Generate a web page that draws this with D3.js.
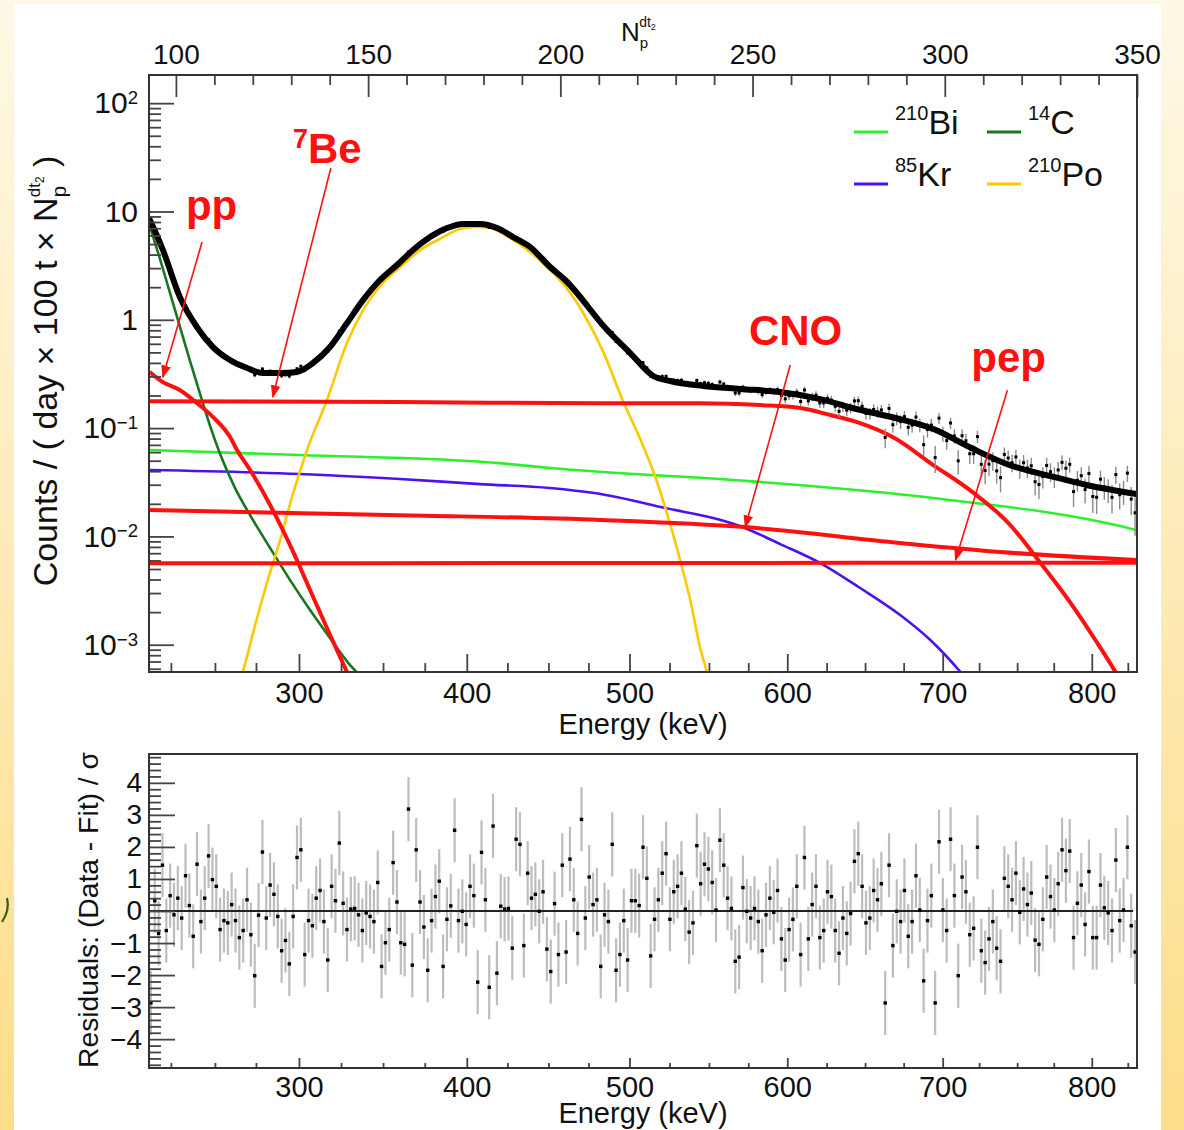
<!DOCTYPE html>
<html><head><meta charset="utf-8">
<script src="https://cdn.jsdelivr.net/npm/d3@7"></script>
<style>
body{margin:0;background:#fff;}
svg{display:block;}
text{font-family:"Liberation Sans",Arial,Helvetica,sans-serif;fill:#111;}
</style>
</head><body>
<svg id="c" width="1184" height="1130"></svg>
<script>
// ---------------- DATA ----------------
const npDomain = [93, 350];
const yDomain = [5.6e-4, 182];
const residDomain = [-4.9, 4.9];

const npTicksMajor = [100, 150, 200, 250, 300, 350];
const energyTicksMajor = [300, 400, 500, 600, 700, 800];
const energyTicksMinor = [225, 250, 275, 325, 350, 375, 425, 450, 475, 525, 550, 575, 625, 650, 675, 725, 750, 775, 825];
const logTicksMajor = [1e-3, 1e-2, 1e-1, 1, 10, 100];
const residTicksMajor = [-4, -3, -2, -1, 0, 1, 2, 3, 4];

// energy (keV) <-> N_p^{dt2} calibration
const calibEnergy = [212.6, 225, 250, 275, 300, 325, 350, 375, 400, 425, 450, 475, 500, 525, 550, 575, 600, 625, 650, 675, 700, 725, 750, 775, 800, 825, 831.4];
const calibNp = [93, 98.7, 110.15, 120.82, 132.01, 142.95, 153.88, 164.73, 175.66, 186.23, 196.9, 207.31, 217.98, 228.4, 238.65, 248.88, 259.03, 269.26, 279.26, 289.3, 299.45, 308.93, 318.82, 328.34, 338.24, 347.61, 350.5];

// spectral components: [N_p, counts]
const totalFit = [[92.97,8.71],[93.23,8.34],[96.62,4.41],[101.04,1.62],[105.47,0.857],[109.63,0.560],[114.06,0.425],[118.48,0.359],[122.64,0.322],[127.07,0.322],[131.49,0.330],[135.66,0.399],[140.08,0.560],[144.51,0.933],[148.67,1.52],[153.10,2.33],[157.52,3.20],[161.69,4.41],[166.11,5.81],[170.54,7.03],[174.70,7.66],[179.13,7.66],[183.55,7.03],[187.72,5.81],[192.14,4.70],[197.35,3.07],[201.25,2.33],[212.18,0.804],[218.17,0.493],[224.15,0.303],[228.58,0.272],[237.17,0.245],[246.80,0.230],[257.21,0.215],[267.62,0.185],[276.99,0.150],[287.14,0.124],[297.03,0.098],[306.92,0.0654],[316.81,0.0456],[327.49,0.0361],[336.86,0.0298],[349.87,0.0246]];
const ppCurve = [[93.2,0.330],[96.6,0.266],[101.0,0.225],[105.5,0.170],[109.6,0.127],[114.1,0.0826],[115.9,0.0627],[119.3,0.0410],[124.5,0.0195],[129.7,0.00831],[134.9,0.00320],[140.1,0.00123],[144.5,0.00056],[146.6,0.000381]];
const be7Curve = [[93.0,0.177],[158.3,0.174],[210.4,0.170],[236.4,0.170],[252.0,0.163],[262.4,0.153],[270.2,0.132],[277.0,0.114],[286.9,0.0810],[297.0,0.0456],[306.9,0.0262],[316.8,0.0130],[324.9,0.00568],[332.7,0.00243],[339.2,0.00110],[344.4,0.00056],[347.0,0.000381]];
const cnoCurve = [[93.0,0.0175],[158.3,0.0157],[210.4,0.0142],[248.1,0.0122],[288.4,0.00869],[314.5,0.00718],[350.0,0.00605]];
const pepCurve = [[93.0,0.00565],[200.0,0.00568],[350.0,0.00572]];
const bi210Curve = [[93.0,0.0627],[132.3,0.0564],[184.3,0.0475],[197.3,0.0428],[249.1,0.0324],[297.0,0.0226],[346.7,0.0122],[350.0,0.0114]];
const kr85Curve = [[93.0,0.0410],[132.3,0.0377],[158.3,0.0339],[179.1,0.0304],[197.3,0.0280],[209.3,0.0250],[227.3,0.0183],[245.2,0.0130],[248.1,0.0119],[257.2,0.00850],[267.6,0.00568],[278.0,0.00334],[288.4,0.00188],[296.3,0.00110],[304.1,0.00056],[308.0,0.000381]];
const c14Curve = [[93.2,7.34],[95.8,3.71],[98.4,1.80],[101.0,0.875],[103.6,0.425],[106.2,0.211],[108.8,0.107],[111.5,0.0576],[115.4,0.0279],[119.3,0.0157],[124.5,0.00781],[129.7,0.00395],[134.9,0.00209],[140.1,0.00115],[145.3,0.000649],[146.9,0.00056],[149.2,0.000381]];
const po210Curve = [[115.4,0.000343],[117.4,0.00056],[120.6,0.00152],[123.9,0.00395],[127.1,0.00925],[130.5,0.0251],[134.1,0.0627],[139.3,0.182],[144.5,0.610],[148.7,1.23],[153.9,2.20],[158.3,3.05],[163.5,4.40],[168.7,5.60],[173.9,6.90],[177.8,7.19],[181.7,7.03],[186.9,5.70],[192.1,4.23],[197.3,2.88],[201.2,2.05],[206.0,1.15],[211.2,0.503],[216.4,0.174],[220.9,0.0776],[224.8,0.0346],[228.7,0.0125],[231.3,0.00580],[233.9,0.00248],[236.5,0.000893],[238.1,0.00056],[239.1,0.000381]];

// relative statistical error of the data vs N_p
const relErrNp = [93, 110, 125, 140, 160, 180, 200, 215, 230, 250, 270, 290, 310, 330, 350];
const relErrVal = [0.01, 0.03, 0.05, 0.03, 0.015, 0.01, 0.015, 0.03, 0.045, 0.06, 0.10, 0.14, 0.18, 0.22, 0.26];

// residuals (Data - Fit)/sigma, one per N_p bin (93.5 ... 349.5)
const residuals = [-2.87,0.32,-0.70,1.43,-0.61,0.48,-0.12,0.40,-0.22,1.10,
0.17,-0.79,1.46,-0.33,0.40,1.72,0.98,0.77,-0.58,-0.30,
-0.37,0.20,-0.30,-0.83,-0.61,0.35,-0.74,-2.02,-0.13,1.84,
-0.22,0.81,0.52,-0.17,-1.24,-0.92,-1.65,-0.17,1.67,1.91,
-1.36,-0.30,-0.46,0.40,0.64,-0.33,-1.53,0.77,0.32,2.12,
0.24,-0.58,0.06,0.08,-0.12,-0.61,-0.06,-0.17,-0.33,0.89,
-1.73,-0.99,-0.58,1.51,0.28,
-0.99,-1.04,3.18,-1.69,1.91,0.28,-0.50,-1.85,-0.30,0.45,
0.93,-1.73,-0.26,0.16,2.52,-0.30,-0.01,-0.42,0.77,0.48,
-2.22,1.83,0.35,-2.38,2.65,-1.94,0.15,0.06,0.08,-1.16,
2.24,2.08,-1.08,1.18,0.40,0.52,-0.01,0.60,-1.19,-1.89,
0.23,-1.36,1.43,-1.28,1.62,0.35,-0.70,2.86,-0.22,1.06,
0.20,0.35,-1.73,-0.12,-0.33,2.08,-1.85,-1.36,-0.30,-1.53,
0.32,0.32,0.17,1.99,
1.02,-1.40,-0.26,0.35,1.18,1.79,-0.26,0.60,0.77,1.18,
0.06,-0.66,-0.37,2.04,0.85,1.46,1.31,0.89,0.03,2.21,
1.43,0.40,0.08,-1.57,-1.44,0.73,-0.01,-0.22,0.08,-0.33,
-1.24,-0.12,0.40,-0.04,0.64,-0.87,-1.53,-0.58,-0.26,0.77,
-1.36,1.67,-0.87,0.20,0.77,-0.83,-0.61,0.60,0.45,-0.61,
-1.32,-0.22,-0.70,-0.08,1.55,1.79,0.77,-0.37,-0.22,0.64,
0.35,0.85,-2.87,1.43,-1.08,
-0.01,-0.33,0.64,-0.79,-0.33,1.10,0.03,-2.18,-0.30,0.48,
-2.87,2.16,0.03,-0.61,2.24,0.48,-2.02,1.06,0.60,-0.74,
-0.54,1.99,-1.24,-1.61,-0.87,-0.33,-1.16,-1.57,1.02,0.77,
0.35,1.18,-0.04,0.69,0.20,0.56,-0.91,-1.04,-0.26,1.06,
0.45,0.03,0.85,1.91,1.26,1.87,-0.83,0.24,0.81,-0.42,
1.23,-0.83,-0.83,0.81,0.10,-0.06,-0.61,1.59,-0.30,0.03,
1.99,-0.46,-1.28];

// legend
const legendIso = ['210', '14', '85', '210'];
const legendElem = ['Bi', 'C', 'Kr', 'Po'];
const legendColors = ['#2cf02c', '#17781f', '#4a12f0', '#ffc800'];

// annotations (data coordinates: N_p, counts)
const annText = ['pp', 'Be', 'CNO', 'pep'];
const annSup = ['', '7', '', ''];
const annNp = [102.6, 130.45, 261.2, 316.6];
const annVal = [8.34, 28.0, 0.585, 0.330];
const annAnchor = ['start', 'start', 'middle', 'middle'];
const arrowFromNp = [106.8, 140.3, 259.8, 316.3];
const arrowFromVal = [5.22, 25.2, 0.382, 0.224];
const arrowToNp = [96.6, 125.2, 248.1, 302.8];
const arrowToVal = [0.296, 0.194, 0.0122, 0.00605];

// ---------------- LAYOUT ----------------
const L = 149, R = 1137;
const T1 = 75, B1 = 672;
const T2 = 754, B2 = 1068;
const RED = '#ff1010';

const svg = d3.select('#c');
const defs = svg.append('defs');
const grad = defs.append('linearGradient').attr('id', 'bg').attr('x1', 0).attr('y1', 0).attr('x2', 0).attr('y2', 1);
grad.append('stop').attr('offset', 0).attr('stop-color', '#fef8e6');
grad.append('stop').attr('offset', 1).attr('stop-color', '#fddd88');
defs.append('clipPath').attr('id', 'clipTop').append('rect').attr('x', L).attr('y', T1).attr('width', R - L).attr('height', B1 - T1);
defs.append('clipPath').attr('id', 'clipRes').append('rect').attr('x', L).attr('y', T2).attr('width', R - L).attr('height', B2 - T2);
defs.append('marker').attr('id', 'arr').attr('viewBox', '0 0 10 10').attr('refX', 9).attr('refY', 5)
  .attr('markerWidth', 13).attr('markerHeight', 13).attr('markerUnits', 'userSpaceOnUse').attr('orient', 'auto')
  .append('path').attr('d', 'M0,1.2 L10,5 L0,8.8 z').attr('fill', RED);

svg.append('rect').attr('width', 1184).attr('height', 1130).attr('fill', 'url(#bg)');
svg.append('rect').attr('x', 14).attr('y', 4).attr('width', 1147).attr('height', 1126).attr('fill', '#fff');
// small decorative stroke on the slide's left margin
svg.append('path').attr('d', 'M7,898 Q10,910 2,922').attr('fill', 'none').attr('stroke', '#3c5a18').attr('stroke-width', 2.2);

// ---------------- SCALES ----------------
const xNp = d3.scaleLinear().domain(npDomain).range([L, R]);
const xE = d3.scaleLinear().domain(calibEnergy).range(calibNp.map(xNp));
const yTop = d3.scaleLog().domain(yDomain).range([B1, T1]);
const yRes = d3.scaleLinear().domain(residDomain).range([B2, T2]);

const line = d3.line().x(d => xNp(d[0])).y(d => yTop(d[1])).curve(d3.curveMonotoneX);

// ---------------- TOP PANEL CURVES ----------------
const gc = svg.append('g').attr('clip-path', 'url(#clipTop)');
const comps = [
  [bi210Curve, legendColors[0], 2.6],
  [kr85Curve, legendColors[2], 2.6],
  [c14Curve, legendColors[1], 2.6],
  [po210Curve, legendColors[3], 2.6],
  [pepCurve, RED, 4],
  [cnoCurve, RED, 4],
  [ppCurve, RED, 4],
  [be7Curve, RED, 4]
];
comps.forEach(([data, col, w]) => {
  gc.append('path').attr('d', line(data)).attr('fill', 'none').attr('stroke', col).attr('stroke-width', w)
    .attr('stroke-linejoin', 'round');
});

// data points derived from the fit and the residuals
const fitLog = d3.scaleLinear().domain(totalFit.map(d => d[0])).range(totalFit.map(d => Math.log10(d[1])));
const errAt = d3.scaleLinear().domain(relErrNp).range(relErrVal);
const bins = residuals.map((r, i) => {
  const np = npDomain[0] + 0.5 + i;
  const f = Math.pow(10, fitLog(np));
  const e = errAt(np);
  return {np, r, d: f * (1 + r * e), lo: f * (1 + (r - 1) * e), hi: f * (1 + (r + 1) * e)};
});
gc.selectAll('line.err').data(bins).join('line').attr('class', 'err')
  .attr('x1', d => xNp(d.np)).attr('x2', d => xNp(d.np))
  .attr('y1', d => yTop(Math.max(d.lo, 1e-4))).attr('y2', d => yTop(d.hi))
  .attr('stroke', '#8a8a8a').attr('stroke-width', 1.4);
gc.append('path').attr('d', line(totalFit)).attr('fill', 'none').attr('stroke', '#000').attr('stroke-width', 6)
  .attr('stroke-linejoin', 'round');
gc.selectAll('rect.pt').data(bins).join('rect').attr('class', 'pt')
  .attr('x', d => xNp(d.np) - 1.5).attr('y', d => yTop(d.d) - 1.5).attr('width', 3).attr('height', 3).attr('fill', '#000');

// ---------------- TOP PANEL AXES ----------------
function styleAxis(g) {
  g.select('.domain').remove();
  g.selectAll('.tick line').attr('stroke', '#444').attr('stroke-width', 1.8);
}
// left log axis
const gYmin = svg.append('g').attr('transform', `translate(${L},0)`);
const minorLog = [];
for (let n = -4; n <= 2; n++) for (let k = 2; k <= 9; k++) {
  const v = k * Math.pow(10, n);
  if (v > yDomain[0] && v < yDomain[1]) minorLog.push(v);
}
gYmin.call(d3.axisLeft(yTop).tickValues(minorLog).tickSizeInner(-12).tickSizeOuter(0).tickFormat(''));
styleAxis(gYmin);
const gY = svg.append('g').attr('transform', `translate(${L},0)`);
gY.call(d3.axisLeft(yTop).tickValues(logTicksMajor).tickSizeInner(-25).tickSizeOuter(0).tickPadding(11));
styleAxis(gY);
gY.selectAll('.tick text').attr('font-size', 30).style('fill', '#111').each(function (d) {
  const e = Math.round(Math.log10(d));
  const t = d3.select(this).text(null);
  if (e === 0) t.text('1');
  else if (e === 1) t.text('10');
  else {
    t.append('tspan').text('10');
    t.append('tspan').attr('dy', '-0.5em').attr('font-size', '0.62em').text(e < 0 ? '\u2212' + (-e) : String(e));
  }
});

// bottom energy axis (top panel)
const gXmin = svg.append('g').attr('transform', `translate(0,${B1})`);
gXmin.call(d3.axisBottom(xE).tickValues(energyTicksMinor).tickSizeInner(-9).tickSizeOuter(0).tickFormat(''));
styleAxis(gXmin);
const gX = svg.append('g').attr('transform', `translate(0,${B1})`);
gX.call(d3.axisBottom(xE).tickValues(energyTicksMajor).tickSizeInner(-18).tickSizeOuter(0).tickPadding(10).tickFormat(d3.format('d')));
styleAxis(gX);
gX.selectAll('.tick text').attr('font-size', 29).style('fill', '#111');

// top N_p axis
const npMinor = d3.range(100, 351, 10).filter(v => v % 50 !== 0);
const gTmin = svg.append('g').attr('transform', `translate(0,${T1})`);
gTmin.call(d3.axisTop(xNp).tickValues(npMinor).tickSizeInner(-10).tickSizeOuter(0).tickFormat(''));
styleAxis(gTmin);
const gT = svg.append('g').attr('transform', `translate(0,${T1})`);
gT.call(d3.axisTop(xNp).tickValues(npTicksMajor).tickSizeInner(-22).tickSizeOuter(0).tickPadding(11).tickFormat(d3.format('d')));
styleAxis(gT);
gT.selectAll('.tick text').attr('font-size', 28).style('fill', '#111');

svg.append('rect').attr('x', L).attr('y', T1).attr('width', R - L).attr('height', B1 - T1)
  .attr('fill', 'none').attr('stroke', '#333').attr('stroke-width', 2);

// titles
svg.append('text').attr('x', 643).attr('y', 734).attr('text-anchor', 'middle').attr('font-size', 29).text('Energy (keV)');
const npT = svg.append('text').attr('x', 621).attr('y', 41).attr('font-size', 26);
npT.append('tspan').text('N');
npT.append('tspan').attr('font-size', 15).attr('dy', 7).text('p');
npT.append('tspan').attr('font-size', 14).attr('dx', -9).attr('dy', -21).text('dt');
npT.append('tspan').attr('font-size', 9).attr('dy', 3).text('2');

function yTitle(f) {
  const t = svg.append('text').attr('transform', 'translate(57,371) rotate(-90)').attr('text-anchor', 'middle').attr('font-size', f);
  t.append('tspan').text('Counts / ( day \u00d7 100 t \u00d7 N');
  t.append('tspan').attr('font-size', f * 0.6).attr('dy', f * 0.25).text('p');
  t.append('tspan').attr('font-size', f * 0.5).attr('dx', -f * 0.33).attr('dy', -f * 0.75).text('dt');
  t.append('tspan').attr('font-size', f * 0.35).attr('dy', f * 0.12).text('2');
  t.append('tspan').attr('font-size', f).attr('dy', f * 0.38).text(' )');
  return t;
}
let yt = yTitle(27);
const ylen = yt.node().getComputedTextLength();
yt.remove();
yTitle(27 * 442 / ylen);

// legend
legendIso.forEach((iso, i) => {
  const col = i % 2, row = Math.floor(i / 2);
  const lx = col === 0 ? 854 : 987;
  const ly = row === 0 ? 132 : 184;
  svg.append('line').attr('x1', lx).attr('x2', lx + 34).attr('y1', ly).attr('y2', ly)
    .attr('stroke', legendColors[i]).attr('stroke-width', 3);
  const t = svg.append('text').attr('x', lx + 41).attr('y', ly + 2).attr('font-size', 34);
  t.append('tspan').attr('font-size', 20).attr('dy', -14).text(iso);
  t.append('tspan').attr('dy', 14).text(legendElem[i]);
});

// annotations
annText.forEach((s, i) => {
  const t = svg.append('text').attr('x', xNp(annNp[i])).attr('y', yTop(annVal[i]))
    .attr('text-anchor', annAnchor[i]).attr('font-size', 42).attr('font-weight', 'bold').style('fill', RED);
  if (annSup[i]) {
    t.append('tspan').attr('font-size', 27).attr('dy', -15).text(annSup[i]);
    t.append('tspan').attr('dy', 15).text(s);
  } else t.text(s);
  svg.append('line').attr('x1', xNp(arrowFromNp[i])).attr('y1', yTop(arrowFromVal[i]))
    .attr('x2', xNp(arrowToNp[i])).attr('y2', yTop(arrowToVal[i]))
    .attr('stroke', RED).attr('stroke-width', 1.6).attr('marker-end', 'url(#arr)');
});

// ---------------- RESIDUAL PANEL ----------------
const gr = svg.append('g').attr('clip-path', 'url(#clipRes)');
gr.selectAll('line.rerr').data(bins).join('line').attr('class', 'rerr')
  .attr('x1', d => xNp(d.np)).attr('x2', d => xNp(d.np))
  .attr('y1', d => yRes(d.r - 1)).attr('y2', d => yRes(d.r + 1))
  .attr('stroke', '#bdbdbd').attr('stroke-width', 2.2);
gr.append('line').attr('x1', xNp(npDomain[0])).attr('x2', xNp(349)).attr('y1', yRes(0)).attr('y2', yRes(0))
  .attr('stroke', '#222').attr('stroke-width', 2);
gr.selectAll('rect.rpt').data(bins).join('rect').attr('class', 'rpt')
  .attr('x', d => xNp(d.np) - 1.7).attr('y', d => yRes(d.r) - 1.7).attr('width', 3.4).attr('height', 3.4).attr('fill', '#000');

const resMinor = d3.range(-48, 49, 2).filter(v => v % 10 !== 0).map(v => v / 10);
const gRmin = svg.append('g').attr('transform', `translate(${L},0)`);
gRmin.call(d3.axisLeft(yRes).tickValues(resMinor).tickSizeInner(-12).tickSizeOuter(0).tickFormat(''));
styleAxis(gRmin);
const gR = svg.append('g').attr('transform', `translate(${L},0)`);
gR.call(d3.axisLeft(yRes).tickValues(residTicksMajor).tickSizeInner(-26).tickSizeOuter(0).tickPadding(7).tickFormat(d3.format('d')));
styleAxis(gR);
gR.selectAll('.tick text').attr('font-size', 28).style('fill', '#111');

const gRXmin = svg.append('g').attr('transform', `translate(0,${B2})`);
gRXmin.call(d3.axisBottom(xE).tickValues(energyTicksMinor).tickSizeInner(-5).tickSizeOuter(0).tickFormat(''));
styleAxis(gRXmin);
const gRX = svg.append('g').attr('transform', `translate(0,${B2})`);
gRX.call(d3.axisBottom(xE).tickValues(energyTicksMajor).tickSizeInner(-10).tickSizeOuter(0).tickPadding(8).tickFormat(d3.format('d')));
styleAxis(gRX);
gRX.selectAll('.tick text').attr('font-size', 29).style('fill', '#111');

svg.append('rect').attr('x', L).attr('y', T2).attr('width', R - L).attr('height', B2 - T2)
  .attr('fill', 'none').attr('stroke', '#333').attr('stroke-width', 2);

svg.append('text').attr('x', 643).attr('y', 1123).attr('text-anchor', 'middle').attr('font-size', 29).text('Energy (keV)');
function rTitle(f) {
  return svg.append('text').attr('transform', 'translate(98,910) rotate(-90)').attr('text-anchor', 'middle')
    .attr('font-size', f).text('Residuals: (Data - Fit) / \u03c3');
}
let rt = rTitle(24);
const rlen = rt.node().getComputedTextLength();
rt.remove();
rTitle(24 * 316 / rlen);
</script>
</body></html>
